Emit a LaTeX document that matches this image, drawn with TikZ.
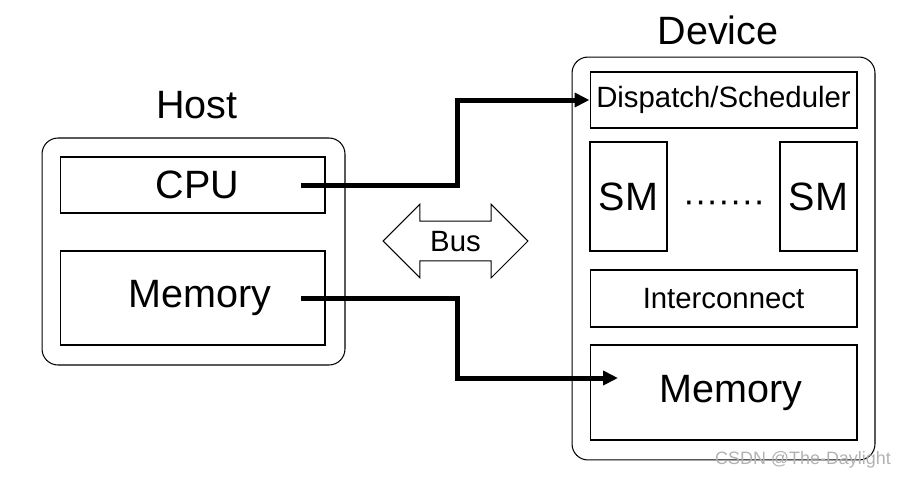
\documentclass[tikz,border=0pt]{standalone}
\usepackage{fontspec}
\setmainfont{Liberation Sans}
\usepackage{tikz}
\usetikzlibrary{arrows.meta,calc,positioning,shapes.arrows}
\tikzset{%
	frame/.style    = {draw, rectangle, rounded corners=0.32cm, line width=0.6pt, inner sep=0pt},
	unit/.style     = {draw, rectangle, line width=0.6pt, inner sep=0pt, text centered},
	bigtext/.style  = {font=\fontsize{22.5}{27}\selectfont},
	smalltext/.style= {font=\fontsize{16.7}{20}\selectfont},
	busarrow/.style = {draw, double arrow, line width=0.6pt, double arrow head extend=0.34cm, double arrow tip angle=90, minimum height=2.9cm, text height=12pt, text depth=0pt, inner ysep=5pt, inner xsep=0pt},
	link/.style     = {line width=0.1cm, -{Triangle[length=0.3cm,width=0.28cm]}},
}

\begin{document}
\begin{tikzpicture}[x=0.02cm,y=-0.02cm]
	\useasboundingbox (0,0) rectangle (908,480);
	% host side
	\node[frame, minimum width=6.06cm, minimum height=4.54cm] (host) at (193.5,251.5) {};
	\node[bigtext] (hostlabel) at (197,105) {Host};
	\node[unit, bigtext, minimum width=5.3cm, minimum height=1.12cm] (cpu) at (192.5,185) {\hspace{0.2cm}CPU};
	\node[unit, bigtext, minimum width=5.3cm, minimum height=1.88cm] (hmem) at (192.5,298) {\hspace{0.3cm}Memory};
	
	% device side
	\node[frame, minimum width=6.06cm, minimum height=8.06cm] (device) at (723.5,258.5) {};
	\node[bigtext] (devlabel) at (718,30) {Device};
	\node[unit, smalltext, minimum width=5.34cm, minimum height=1.12cm] (disp) at (723.5,100) {Dispatch/Scheduler};
	\node[unit, bigtext, minimum width=1.54cm, minimum height=2.18cm] (sm1) at (628.5,196.5) {SM};
	\node[unit, bigtext, minimum width=1.54cm, minimum height=2.18cm] (sm2) at (818.5,196.5) {SM};
	\node[font=\fontsize{20}{24}\selectfont] (dots) at (724,207) {·······};
	\node[unit, smalltext, minimum width=5.34cm, minimum height=1.14cm] (icn) at (723.5,298.5) {Interconnect\hspace{0.08cm}};
	\node[unit, bigtext, minimum width=5.34cm, minimum height=1.9cm] (dmem) at (723.5,392.5) {\hspace{0.3cm}Memory};
	
	% bus
	\node[busarrow, smalltext] (bus) at (455.5,241) {Bus};
	
	% links
	\coordinate (cpuout) at (301,185);
	\coordinate (hmemout) at (301,298);
	\coordinate (dmemin) at (618,378);
	\draw[link] (cpuout) -- ++(156,0) |- (disp.west);
	\draw[link] (hmemout) -- ++(156,0) |- (dmemin);
	
	\node[font=\fontsize{10.2}{12}\selectfont, text=gray!60] (mark) at (803,460) {CSDN @The-Daylight};
\end{tikzpicture}
\end{document}
